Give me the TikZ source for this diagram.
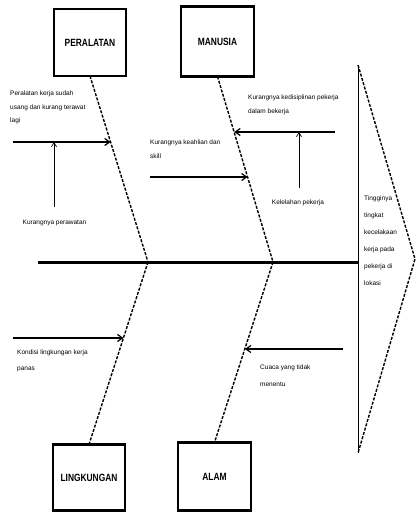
\documentclass[tikz,border=0pt]{standalone}
\usepackage{fontspec}
\setmainfont{Liberation Sans}
\newfontfamily\labfont{Liberation Sans}[FakeStretch=0.8]
\usetikzlibrary{arrows.meta,calc}
\begin{document}
\begin{tikzpicture}[x=1pt,y=-1pt,
 catbox/.style={draw,line width=1.1pt,minimum width=72pt,minimum height=66pt,inner sep=0pt,font=\labfont\bfseries\fontsize{10.5}{12}\selectfont},
 thickedge/.style={line width=2.6pt},
 bone/.style={line width=1.4pt,dash pattern=on 3pt off 1.5pt},
 spine/.style={line width=3pt},
 cause/.style={line width=1.2pt,-{Straight Barb[length=5pt,width=7pt]}},
 sub/.style={line width=0.7pt,-{Straight Barb[length=4pt,width=5pt]}},
 txt/.style={font=\fontsize{6.5}{13.5}\selectfont,align=left,inner sep=0pt,anchor=north west},
]
\useasboundingbox (0,0) rectangle (416,513);
% category boxes
\node[catbox] (per) at (90,42.5) {PERALATAN};
\node[catbox,minimum width=73pt,minimum height=69pt] (man) at (217.5,41.5) {MANUSIA};
\node[catbox,minimum height=65pt] (lin) at (89,477.5) {LINGKUNGAN};
\node[catbox,minimum width=73pt,minimum height=67pt] (ala) at (214.5,476.5) {ALAM};
\foreach \b in {per,man,lin,ala}{
  \draw[thickedge] (\b.north west) -- (\b.north east);
  \draw[thickedge] (\b.south west) -- (\b.south east);
}
% spine
\coordinate (s0) at (38,262);
\coordinate (j1) at (148,262);
\coordinate (j2) at (273,262);
\coordinate (hb) at (358,262);
\draw[spine] (s0) -- (hb);
% head
\coordinate (ht) at (358,65);
\coordinate (hbot) at (358,453);
\coordinate (apex) at (415,259);
\draw[line width=1pt] (ht) -- (hbot);
\draw[bone] (ht) -- (apex) -- (hbot);
\node[txt,font=\fontsize{6.5}{17}\selectfont] (eff) at (364,196) {Tingginya\\tingkat\\kecelakaan\\kerja pada\\pekerja di\\lokasi};
% bones
\draw[bone] (per.south) -- (j1);
\draw[bone] (man.south) -- (j2);
\draw[bone] (j1) -- (lin.north);
\draw[bone] (j2) -- (ala.north);
% points on bones
\coordinate (p1) at ($(per.south)!0.357!(j1)$);
\coordinate (p2) at ($(man.south)!0.543!(j2)$);
\coordinate (p3) at ($(man.south)!0.301!(j2)$);
\coordinate (p4) at ($(j1)!0.415!(lin.north)$);
\coordinate (p5) at ($(j2)!0.48!(ala.north)$);
% cause arrows
\coordinate (a1) at (13,142);
\coordinate (a2) at (150,177);
\coordinate (a3) at (335,132);
\coordinate (a4) at (13,338);
\coordinate (a5) at (343,349);
\draw[cause] (a1) -- (p1 |- a1);
\draw[cause] (a2) -- (p2 |- a2);
\draw[cause] (a3) -- (p3 |- a3);
\draw[cause] (a4) -- (p4 |- a4);
\draw[cause] (a5) -- (p5 |- a5);
% sub-cause arrows
\coordinate (v1) at (54,207);
\coordinate (v3) at (299,188);
\draw[sub] (v1) -- (v1 |- a1);
\draw[sub] (v3) -- (v3 |- a3);
% texts
\node[txt] (t1) at (10,91) {Peralatan kerja sudah\\usang dan kurang terawat\\lagi};
\node[txt,anchor=center] (t1b) at (54.5,223) {Kurangnya perawatan};
\node[txt,font=\fontsize{6.5}{14}\selectfont] (t2) at (150,140) {Kurangnya keahlian dan\\skill};
\node[txt,font=\fontsize{6.5}{14}\selectfont] (t3) at (248,95) {Kurangnya kedisiplinan pekerja\\dalam bekerja};
\node[txt,anchor=center] (t3b) at (298,203) {Kelelahan pekerja};
\node[txt,font=\fontsize{6.5}{16}\selectfont] (t4) at (17,350) {Kondisi lingkungan kerja\\panas};
\node[txt,font=\fontsize{6.5}{17}\selectfont] (t5) at (260,365) {Cuaca yang tidak\\menentu};
\end{tikzpicture}
\end{document}
